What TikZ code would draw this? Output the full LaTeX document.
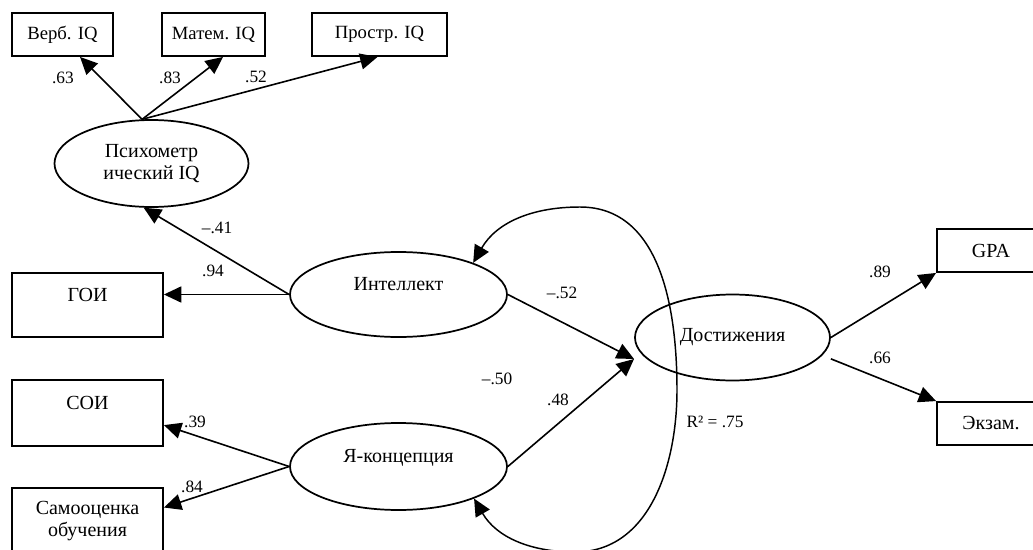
\documentclass[tikz,border=0pt]{standalone}
\usepackage{fontspec}
\setmainfont{Liberation Serif}
\usetikzlibrary{shapes.geometric, arrows.meta, positioning}

\begin{document}
\begin{tikzpicture}[x=0.75pt, y=-0.75pt,
  obs/.style={draw, line width=1.4pt, inner sep=2pt, font=\fontsize{15}{17}\selectfont, align=center},
  lat/.style={draw, ellipse, line width=1.3pt, inner sep=2pt, font=\fontsize{15}{17}\selectfont, align=center},
  upper/.style={text height=10pt, text depth=16pt},
  coef/.style={inner sep=0pt, font=\fontsize{13}{15}\selectfont},
  arr/.style={-{Triangle[length=13pt, width=12pt]}, line width=1.2pt},
  biarr/.style={{Triangle[length=13pt, width=12pt]}-{Triangle[length=13pt, width=12pt]}, line width=1.1pt}
]
  \useasboundingbox (0,0) rectangle (1033,550);
  \clip (0,0) rectangle (1033,550);

  \node[obs, font=\fontsize{14}{16}\selectfont, minimum width=75.75pt, minimum height=32.25pt] (verb) at (62.5,34.5) {Верб. IQ};
  \node[obs, font=\fontsize{14}{16}\selectfont, minimum width=77.25pt, minimum height=32.25pt] (mat) at (213.5,34.5) {Матем. IQ};
  \node[obs, font=\fontsize{14}{16}\selectfont, minimum width=101.25pt, minimum height=32.25pt] (pro) at (379.5,34.5) {Простр. IQ};
  \node[lat, minimum width=145.5pt, minimum height=65.25pt] (psy) at (151.5,163.5) {Психометр\\ический IQ};

  \node[obs, upper, minimum width=113.25pt, minimum height=48pt] (goi) at (87.5,305) {ГОИ};
  \node[obs, upper, minimum width=113.25pt, minimum height=49.5pt] (soi) at (87.5,413) {СОИ};
  \node[obs, minimum width=113.25pt, minimum height=49.5pt] (samo) at (87.5,521) {Самооценка\\обучения};

  \node[lat, upper, minimum width=162.75pt, minimum height=63.75pt] (int) at (398.5,294.5) {Интеллект};
  \node[lat, upper, minimum width=162.75pt, minimum height=65.25pt] (ya) at (398.5,466.5) {Я-концепция};
  \node[lat, minimum width=146.25pt, minimum height=64.5pt] (dost) at (732.5,337.5) {Достижения};

  \node[obs, minimum width=81pt, minimum height=32.25pt] (gpa) at (991,250.5) {GPA};
  \node[obs, minimum width=81pt, minimum height=32.25pt] (exam) at (991,423.5) {Экзам.};

  \draw[arr] (psy.102) -- (verb.-52);
  \draw[arr] (psy.102) -- (mat.-67);
  \draw[arr] (psy.102) -- (pro.-95);
  \draw[arr] (int.west) -- (psy.-100);
  \draw[arr] (int.west) -- (int.west -| goi.east);
  \draw[arr] (ya.west) -- (soi.-9);
  \draw[arr] (ya.west) -- (samo.10);

  \coordinate (dtip) at (634,359);
  \draw[arr] (int.east) -- (dtip);
  \draw[arr] (ya.east) -- (dtip);
  \draw[arr] (dost.east) -- (gpa.south west);
  \draw[arr] ([yshift=-16pt]dost.east) -- (exam.north west);

  \coordinate (ctop) at (580,207);
  \coordinate (cright) at (677,390);
  \coordinate (cbot) at (575,552);
  \draw[biarr] (int.23) to[out=60, in=180] (ctop) to[out=0, in=90] (cright)
    to[out=-90, in=0] (cbot) to[out=180, in=-60] (ya.-23);

  \node[coef] (c63) at (63,78) {.63};
  \node[coef] (c83) at (170,78) {.83};
  \node[coef] (c52a) at (256,77) {.52};
  \node[coef] (c41) at (217,228) {--.41};
  \node[coef] (c94) at (213,271) {.94};
  \node[coef] (c39) at (195,422) {.39};
  \node[coef] (c84) at (192,487) {.84};
  \node[coef] (c50) at (497,379) {--.50};
  \node[coef] (c52) at (562,293) {--.52};
  \node[coef] (c48) at (558,400) {.48};
  \node[coef] (r2) at (715,422) {R² = .75};
  \node[coef] (c89) at (880,272) {.89};
  \node[coef] (c66) at (880,358) {.66};
\end{tikzpicture}
\end{document}
